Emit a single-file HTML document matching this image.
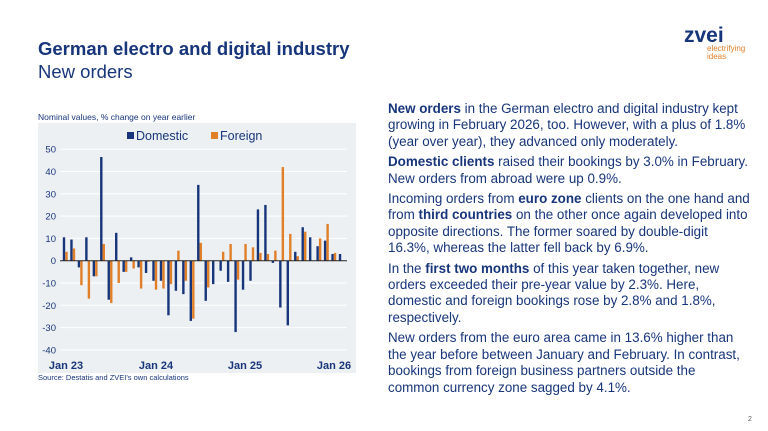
<!DOCTYPE html>
<html><head><meta charset="utf-8"><style>
body{margin:0;width:768px;height:431px;background:#fff;font-family:"Liberation Sans",sans-serif;position:relative;overflow:hidden}
.t1{position:absolute;left:38px;top:38px;font-size:18.5px;font-weight:bold;color:#17357a}
.t2{position:absolute;left:38px;top:61px;font-size:18.5px;color:#17357a}
.txt{position:absolute;left:388px;top:101px;width:362px;font-size:13.4px;line-height:16.4px;color:#17357a}
.txt p{margin:0 0 4px 0}
.logo{position:absolute;left:684px;top:24px;color:#17357a;font-size:21px;font-weight:bold}
.tag{position:absolute;left:707px;top:45px;color:#e07f28;font-size:8px;line-height:8px}
.pg{position:absolute;left:748px;top:416px;font-size:7px;color:#555}
</style></head><body>
<div class="t1">German electro and digital industry</div>
<div class="t2">New orders</div>
<div class="logo">zvei</div>
<div class="tag">electrifying<br>ideas</div>
<div class="pg">2</div>
<div class="txt">
<p><b>New orders</b> in the German electro and digital industry kept growing in February 2026, too. However, with a plus of 1.8% (year over year), they advanced only moderately.</p>
<p><b>Domestic clients</b> raised their bookings by 3.0% in February. New orders from abroad were up 0.9%.</p>
<p>Incoming orders from <b>euro zone</b> clients on the one hand and from <b>third countries</b> on the other once again developed into opposite directions. The former soared by double-digit 16.3%, whereas the latter fell back by 6.9%.</p>
<p>In the <b>first two months</b> of this year taken together, new orders exceeded their pre-year value by 2.3%. Here, domestic and foreign bookings rose by 2.8% and 1.8%, respectively.</p>
<p>New orders from the euro area came in 13.6% higher than the year before between January and February. In contrast, bookings from foreign business partners outside the common currency zone sagged by 4.1%.</p>
</div>
<svg width="768" height="431" style="position:absolute;left:0;top:0" font-family="Liberation Sans, sans-serif">
<text x="38" y="120" font-size="8.5" fill="#17357a">Nominal values, % change on year earlier</text>
<rect x="38" y="123" width="318" height="250" fill="#edf0f3"/>
<g id="grid" stroke="#fff" stroke-width="1"></g>
<g id="bars"></g>
<line x1="60" y1="260.7" x2="347" y2="260.7" stroke="#222" stroke-width="1"/>
<g font-size="9.5" fill="#17357a" text-anchor="end" id="yl"></g>
<rect x="127" y="132" width="7" height="7" fill="#17357a"/>
<text x="136" y="140" font-size="12.5" fill="#17357a">Domestic</text>
<rect x="211" y="132" width="7" height="7" fill="#e07f28"/>
<text x="220" y="140" font-size="12.5" fill="#17357a">Foreign</text>
<g font-size="11" font-weight="bold" fill="#17357a" text-anchor="middle">
<text x="66" y="369">Jan 23</text><text x="156" y="369">Jan 24</text><text x="245" y="369">Jan 25</text><text x="334" y="369">Jan 26</text>
</g>
<text x="38" y="380" font-size="7.5" fill="#17357a">Source: Destatis and ZVEI's own calculations</text>
</svg>
<script>
var d=[[10.5,4],[9.5,5.5],[-3,-11],[10.5,-17],[-7,-7],[46.5,7.5],[-17.5,-19],[12.5,-10],[-5,-5],[1.5,-3.5],[-3,-12.5],[-5.5,-0.5],[-9,-13],[-9,-12.5],[-24.5,-10.5],[-13.5,4.5],[-15,-9],[-27,-26],[34,8],[-18,-12],[-10.5,0],[-4.5,4],[-9.5,7.5],[-32,-8.5],[-13,7.5],[-9,6],[23,3.5],[25,3],[-1,4.5],[-21,42],[-29,12],[4,2],[15,13],[10.5,0],[6.5,10],[9,16.5],[3,3.5],[3,0]];
var ns="http://www.w3.org/2000/svg";
function y(v){return 260.7-v*2.23}
var g=document.getElementById('grid'),b=document.getElementById('bars'),yl=document.getElementById('yl');
for(var v=-40;v<=50;v+=10){var l=document.createElementNS(ns,'line');l.setAttribute('x1',60);l.setAttribute('x2',347);l.setAttribute('y1',y(v));l.setAttribute('y2',y(v));g.appendChild(l);
var t=document.createElementNS(ns,'text');t.setAttribute('x',56);t.setAttribute('y',y(v)+3.5);t.textContent=v;yl.appendChild(t);}
d.forEach(function(p,i){var x=64+i*7.46;[[p[0],'#17357a',x-1.2],[p[1],'#e07f28',x+1.3]].forEach(function(q){if(!q[0])return;var r=document.createElementNS(ns,'rect');var a=y(Math.max(q[0],0)),c=y(Math.min(q[0],0));r.setAttribute('x',q[2]);r.setAttribute('width',2.4);r.setAttribute('y',a);r.setAttribute('height',c-a);r.setAttribute('fill',q[1]);b.appendChild(r);});});
</script>
</body></html>
